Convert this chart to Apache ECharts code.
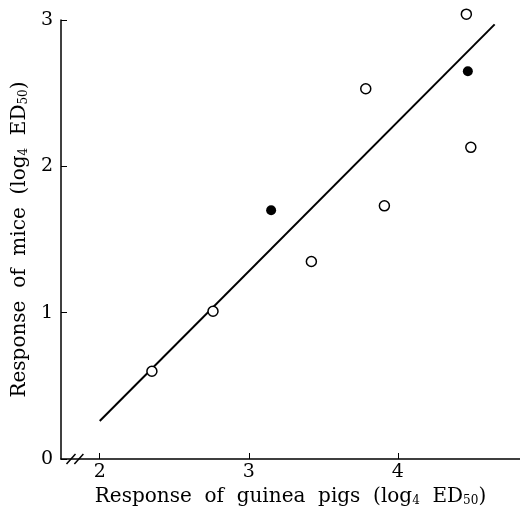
<!DOCTYPE html>
<html>
<head>
<meta charset="utf-8">
<script src="https://cdn.jsdelivr.net/npm/echarts@6/dist/echarts.min.js"></script>
<style>
  html, body { margin: 0; padding: 0; background: #fff; }
  #main { width: 520px; height: 508px; }
</style>
</head>
<body>
<div id="main"></div>
<script>
// open circles (guinea pigs log4 ED50, mice log4 ED50)
var openX = [2.35, 2.76, 3.42, 3.785, 3.91, 4.46, 4.49];
var openY = [0.60, 1.01, 1.35, 2.53, 1.73, 3.04, 2.13];
// filled circles
var filledX = [3.15, 4.47];
var filledY = [1.70, 2.65];
// regression line end points
var lineX = [2.0, 4.65];
var lineY = [0.26, 2.97];
var xTicks = [2, 3, 4];
var yTicks = [0, 1, 2, 3];

function pairs(xs, ys) {
    return xs.map(function (x, i) { return [x, ys[i]]; });
}

var serif = 'DejaVu Serif';
var ink = '#000';
var subStyle = { fontSize: 12, fontFamily: serif, color: ink, verticalAlign: 'bottom', lineHeight: 14 };

var myChart = echarts.init(document.getElementById('main'));
myChart.setOption({
    animation: false,
    grid: { left: 61, right: 0, top: 20, bottom: 49, outerBoundsMode: 'none' },
    xAxis: {
        type: 'value',
        min: 1.74,
        max: 4.82,
        splitLine: { show: false },
        axisLine: { lineStyle: { color: ink, width: 1.5 } },
        axisTick: { customValues: xTicks, inside: true, length: 6, lineStyle: { color: ink } },
        axisLabel: { customValues: xTicks, color: ink, fontSize: 19, fontFamily: serif, margin: 4 },
        name: 'Response  of  guinea  pigs  (log{sub|4}  ED{sub|50})',
        nameLocation: 'middle',
        nameGap: 27,
        nameTextStyle: { color: ink, fontSize: 20, fontFamily: serif, rich: { sub: subStyle } }
    },
    yAxis: {
        type: 'value',
        min: 0,
        max: 3,
        interval: 1,
        splitLine: { show: false },
        axisLine: { show: true, lineStyle: { color: ink, width: 1.5 } },
        axisTick: { show: true, inside: true, length: 6, lineStyle: { color: ink } },
        axisLabel: { color: ink, fontSize: 19, fontFamily: serif, margin: 8 },
        name: 'Response  of  mice  (log{sub|4}  ED{sub|50})',
        nameLocation: 'middle',
        nameGap: 27,
        nameTextStyle: { color: ink, fontSize: 20, fontFamily: serif, rich: { sub: subStyle } }
    },
    series: [
        {
            type: 'line',
            data: pairs(lineX, lineY),
            symbol: 'none',
            lineStyle: { color: ink, width: 2 },
            z: 1
        },
        {
            type: 'scatter',
            data: pairs(openX, openY),
            symbol: 'circle',
            symbolSize: 10,
            clip: false,
            itemStyle: { color: '#fff', borderColor: ink, borderWidth: 1.5, opacity: 1 },
            z: 3
        },
        {
            type: 'scatter',
            data: pairs(filledX, filledY),
            symbol: 'circle',
            symbolSize: 10,
            clip: false,
            itemStyle: { color: ink, opacity: 1 },
            z: 3
        }
    ]
});

// axis break marks "//" near the origin
function drawBreak() {
    var p1 = myChart.convertToPixel({ gridIndex: 0 }, [1.807, 0]);
    var p2 = myChart.convertToPixel({ gridIndex: 0 }, [1.86, 0]);
    var marks = [p1, p2].map(function (p) {
        return {
            type: 'line',
            shape: { x1: p[0] - 4.5, y1: p[1] + 5, x2: p[0] + 4.5, y2: p[1] - 5 },
            style: { stroke: ink, lineWidth: 1.5 }
        };
    });
    myChart.setOption({ graphic: marks });
}
drawBreak();
</script>
</body>
</html>
